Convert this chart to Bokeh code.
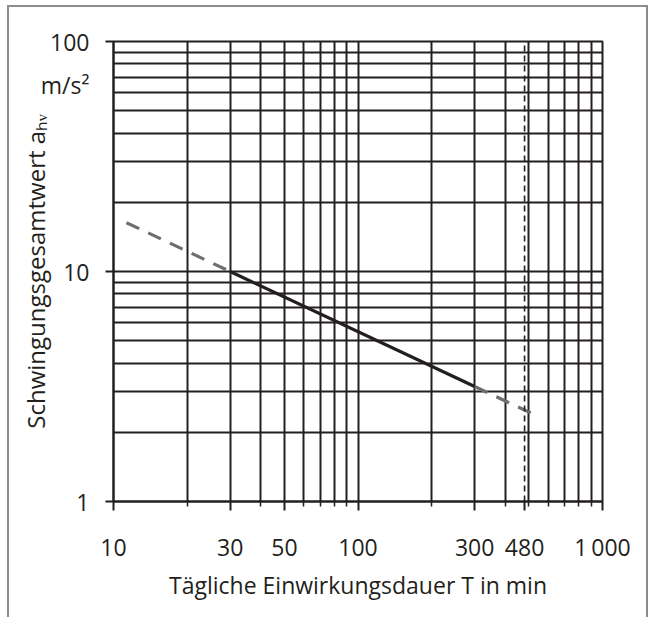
from bokeh.plotting import figure
from bokeh.models import FixedTicker, Range1d
from bokeh.embed import file_html
from bokeh.resources import INLINE

# ---- data ----
T_solid = [30, 300]
a_solid = [10, 3.16]
T_dash_lo = [11.3, 30]
a_dash_lo = [16.3, 10]
T_dash_hi = [300, 512]
a_dash_hi = [3.16, 2.42]
T_limit = 480
a_limit_span = [1, 100]

x_major = [10, 30, 50, 100, 300, 480, 1000]
x_major_labels = ["10", "30", "50", "100", "300", "480", "1\u2009000"]
y_major = [1, 10, 100]
y_major_labels = ["1", "10", "100"]
unit_pos = 65
unit_text = "m/s²"
x_grid = [10, 20, 30, 40, 50, 60, 70, 80, 90, 100, 200, 300, 400, 500, 600, 700, 800, 900, 1000]
x_minor = [20, 40, 60, 70, 80, 90, 200, 400, 500, 600, 700, 800, 900]
y_grid = [1, 2, 3, 4, 5, 6, 7, 8, 9, 10, 20, 30, 40, 50, 60, 70, 80, 90, 100]

x_title = "Tägliche Einwirkungsdauer T in min"
y_title = "Schwingungsgesamtwert a\u2095\u1d65"

INK = "#231f20"
FONT = "Open Sans"

p = figure(width=641, height=612, x_axis_type="log", y_axis_type="log",
           x_range=Range1d(10, 1000), y_range=Range1d(1, 100),
           output_backend="svg", toolbar_location=None,
           min_border_left=104, min_border_right=48, min_border_top=34, min_border_bottom=118)
p.styles = {"margin-left": "7px", "margin-top": "5px",
            "border-left": "2px solid #8c8c8c", "border-top": "2px solid #8c8c8c",
            "border-right": "2px solid #8c8c8c"}
p.background_fill_color = "white"
p.border_fill_color = "white"
p.outline_line_color = INK
p.outline_line_width = 2

# grid
p.xgrid.ticker = FixedTicker(ticks=x_grid)
p.ygrid.ticker = FixedTicker(ticks=y_grid)
for g in (p.xgrid, p.ygrid):
    g.grid_line_color = INK
    g.grid_line_width = 2
    g.grid_line_alpha = 1.0

# axes
p.xaxis.ticker = FixedTicker(ticks=x_major, minor_ticks=x_minor)
p.xaxis.major_label_overrides = {t: l for t, l in zip(x_major, x_major_labels)}
# y: labelled positions are "major"; the visible outward ticks are drawn as minor ticks
p.yaxis.ticker = FixedTicker(ticks=y_major + [unit_pos], minor_ticks=y_major)
y_over = {t: l for t, l in zip(y_major, y_major_labels)}
y_over[unit_pos] = unit_text
p.yaxis.major_label_overrides = y_over
for ax in (p.xaxis, p.yaxis):
    ax.axis_line_color = INK
    ax.axis_line_width = 2
    ax.major_tick_line_color = INK
    ax.major_tick_line_width = 2
    ax.minor_tick_line_color = INK
    ax.major_tick_in = 0
    ax.minor_tick_in = 0
    ax.major_label_text_font = FONT
    ax.major_label_text_font_size = "23px"
    ax.major_label_text_color = INK
    ax.axis_label_text_font = FONT
    ax.axis_label_text_font_style = "normal"
    ax.axis_label_text_color = INK
p.xaxis.major_tick_out = 9
p.xaxis.minor_tick_out = 5
p.xaxis.minor_tick_line_width = 1.5
p.xaxis.major_label_standoff = 20
p.yaxis.major_tick_out = 0
p.yaxis.minor_tick_out = 8
p.yaxis.minor_tick_line_width = 2
p.yaxis.major_label_standoff = 16

p.xaxis.axis_label = x_title
p.xaxis.axis_label_text_font_size = "23px"
p.xaxis.axis_label_standoff = 3
p.yaxis.axis_label = y_title
p.yaxis.axis_label_text_font_size = "24px"
p.yaxis.axis_label_standoff = -14

# curves
p.line(T_dash_lo, a_dash_lo, line_color="#6d6e70", line_width=3.2, line_dash="14 10")
p.line(T_dash_hi, a_dash_hi, line_color="#6d6e70", line_width=3.2, line_dash="14 10")
p.line(T_solid, a_solid, line_color=INK, line_width=3.2)
p.line([T_limit, T_limit], a_limit_span, line_color=INK, line_width=1.6, line_dash="6 4")

open("out.html", "w").write(file_html(p, INLINE))
